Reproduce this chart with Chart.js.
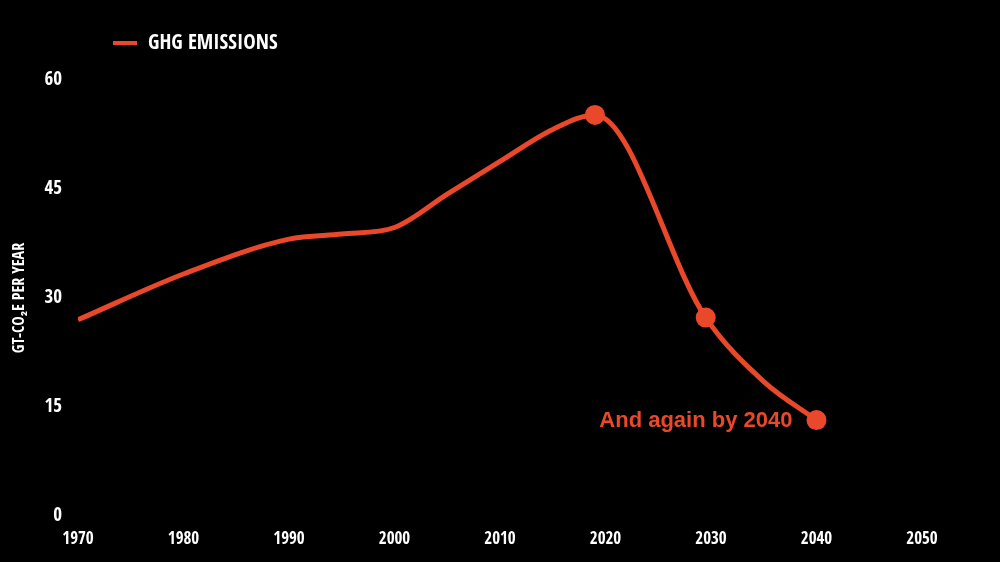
<!DOCTYPE html>
<html>
<head>
<meta charset="utf-8">
<script src="https://cdn.jsdelivr.net/npm/chart.js@4/dist/chart.umd.min.js"></script>
<style>
  html, body { margin: 0; padding: 0; background: #000; }
  #wrap { width: 1000px; height: 562px; }
</style>
</head>
<body>
<div id="wrap"><canvas id="ghgChart"></canvas></div>
<script>
// data
var years = [1970, 1980, 1990, 1995, 2000, 2005, 2010, 2015, 2019, 2029.5, 2035, 2040];
var emissions = [27, 33.3, 38.1, 38.8, 39.7, 44.3, 48.8, 53.2, 55.2, 27.3, 18.5, 13.2];
var markerYears = [2019, 2029.5, 2040];
var yTicks = [0, 15, 30, 45, 60];
var seriesLabel = 'GHG EMISSIONS';
var noteText = 'And again by 2040';

var orange = '#e9482b';
var narrow = '"Open Sans Condensed", "Roboto Condensed", sans-serif';

var points = years.map(function (y, i) { return { x: y, y: emissions[i] }; });

// legend + note drawn straight on the canvas
var extras = {
    id: 'extras',
    afterDatasetsDraw: function (chart) {
        var c = chart.ctx;
        c.save();
        // legend
        c.strokeStyle = orange;
        c.lineWidth = 4;
        c.beginPath();
        c.moveTo(113, 43);
        c.lineTo(137, 43);
        c.stroke();
        c.fillStyle = '#fff';
        c.font = 'bold 21px ' + narrow;
        c.textAlign = 'left';
        c.textBaseline = 'middle';
        c.fillText(chart.data.datasets[0].label, 148, 44);
        // note next to the last marker
        var last = points[points.length - 1];
        var px = chart.scales.x.getPixelForValue(last.x);
        var py = chart.scales.y.getPixelForValue(last.y);
        c.fillStyle = orange;
        c.font = 'bold 22px "Liberation Sans", Arial, sans-serif';
        c.textAlign = 'right';
        c.fillText(noteText, px - 24, py + 1);
        c.restore();
    }
};

new Chart(document.getElementById('ghgChart'), {
    type: 'line',
    data: {
        datasets: [{
            label: seriesLabel,
            data: points,
            borderColor: orange,
            backgroundColor: orange,
            borderWidth: 5,
            cubicInterpolationMode: 'monotone',
            pointRadius: function (ctx) {
                var p = ctx.raw;
                return p && markerYears.indexOf(p.x) >= 0 ? 10 : 0;
            },
            pointHoverRadius: 0,
            pointBorderWidth: 0
        }]
    },
    options: {
        responsive: true,
        maintainAspectRatio: false,
        animation: false,
        layout: { padding: { left: 0, top: 80, right: 78, bottom: 12 } },
        plugins: {
            legend: { display: false },
            tooltip: { enabled: false }
        },
        scales: {
            x: {
                type: 'linear',
                min: 1970,
                max: 2050,
                afterFit: function (scale) { scale.height = 34; },
                grid: { display: false, drawTicks: false },
                border: { display: false },
                ticks: {
                    stepSize: 10,
                    padding: 13,
                    color: '#fff',
                    font: { family: narrow, size: 17, weight: 'bold' },
                    callback: function (v) { return String(v); }
                }
            },
            y: {
                min: 0,
                max: 60,
                afterFit: function (scale) { scale.width = 78; },
                afterBuildTicks: function (scale) {
                    scale.ticks = yTicks.map(function (v) { return { value: v }; });
                },
                grid: { display: false, drawTicks: false },
                border: { display: false },
                ticks: {
                    padding: 16,
                    color: '#fff',
                    font: { family: narrow, size: 19, weight: 'bold' }
                },
                title: {
                    display: true,
                    text: 'GT-CO₂E PER YEAR',
                    color: '#fff',
                    font: { family: narrow, size: 16, weight: 'bold' },
                    padding: { top: 10, bottom: 0 }
                }
            }
        }
    },
    plugins: [extras]
});
</script>
</body>
</html>
